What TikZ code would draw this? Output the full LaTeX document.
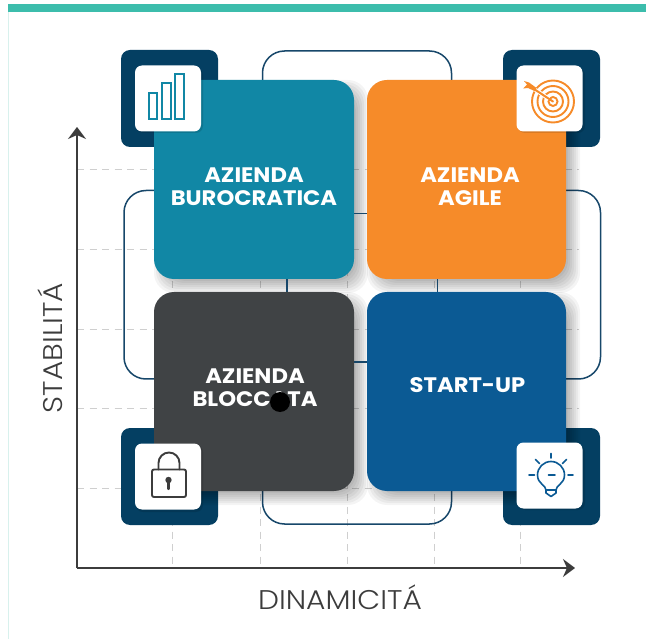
\documentclass[tikz,border=0pt]{standalone}
\usepackage{fontspec}
\setmainfont{Poppins}
\newfontfamily\lightf{Poppins}[UprightFont=* Light,FakeStretch=1.1]
\newfontfamily\cardf{Poppins}[UprightFont=* Bold,FakeStretch=1.08]
\usetikzlibrary{arrows.meta}
\definecolor{teal1}{HTML}{3CBDAC}
\definecolor{teal2}{HTML}{D8F1ED}
\definecolor{navy}{HTML}{043F62}
\definecolor{loopc}{HTML}{17476A}
\definecolor{cblue}{HTML}{1187A5}
\definecolor{corange}{HTML}{F68B29}
\definecolor{cdark}{HTML}{404345}
\definecolor{cstart}{HTML}{0B5A94}
\definecolor{axisc}{HTML}{3C3C3C}
\definecolor{gridc}{HTML}{CFCFCF}
\tikzset{
  grid line/.style={draw=gridc,line width=0.9pt,dash pattern=on 7pt off 5.5pt},
  loop line/.style={draw=loopc,line width=1.5pt,rounded corners=22pt},
  link line/.style={draw=loopc,line width=1.5pt},
  axis line/.style={draw=axisc,line width=2.2pt,-{Stealth[length=12pt,width=18pt,inset=4pt]}},
  card/.style={rectangle,rounded corners=20pt,minimum width=200pt,minimum height=199pt,inner sep=0pt,draw=none},
  cardlabel/.style={text=white,font=\cardf\fontsize{21}{23.5}\selectfont,align=center,inner sep=0pt},
  navybox/.style={rectangle,rounded corners=9pt,fill=navy,minimum width=97pt,minimum height=97pt,inner sep=0pt},
  whitebox/.style={rectangle,rounded corners=7pt,fill=white,minimum width=66pt,minimum height=66pt,inner sep=0pt},
  axislabel/.style={text=axisc,font=\lightf\fontsize{27}{29}\selectfont,inner sep=0pt},
  icon/.style={line width=1.9pt,line cap=round,line join=round},
}
\newcommand{\softshadow}[4]{%
  \foreach \g in {-10,-8,...,9}{
    \fill[black,opacity=0.045,rounded corners=20pt]
      ({#1+8-\g},{#2+8-\g}) rectangle ({#3+6+\g},{#4+6+\g});
  }%
}
\begin{document}
\begin{tikzpicture}[x=1pt,y=-1pt]
\useasboundingbox (0,0) rectangle (646,639);
\fill[white] (0,0) rectangle (646,639);
% frame
\fill[teal2] (7.5,4) rectangle (9,639);
\fill[teal1] (8,4) rectangle (646,12.5);
% grid
\foreach \yy in {169,249,329,408,488}{
  \draw[grid line] (77,\yy) -- (579,\yy);
}
\foreach \xx in {172,260,347,434,520}{
  \draw[grid line] (\xx,169) -- (\xx,568);
}
% axes
\coordinate (origin) at (77,568);
\coordinate (ytip) at (77,127);
\coordinate (xtip) at (575,568);
\draw[axis line] (origin) -- (ytip);
\draw[axis line] (origin) -- (xtip);
% loops
\coordinate (tl) at (262.5,90);
\coordinate (tr) at (451.5,90);
\coordinate (tla) at (262.5,51);
\coordinate (tra) at (451.5,51);
\coordinate (bl) at (262.5,480);
\coordinate (br) at (451.5,480);
\coordinate (bla) at (262.5,524);
\coordinate (bra) at (451.5,524);
\coordinate (lt) at (165,190.5);
\coordinate (lb) at (165,379);
\coordinate (lta) at (124,190.5);
\coordinate (lba) at (124,379);
\coordinate (rt) at (555,190.5);
\coordinate (rb) at (555,379);
\coordinate (rta) at (600.5,190.5);
\coordinate (rba) at (600.5,379);
\draw[loop line] (tl) -- (tla) -- (tra) -- (tr);
\draw[loop line] (bl) -- (bla) -- (bra) -- (br);
\draw[loop line] (lt) -- (lta) -- (lba) -- (lb);
\draw[loop line] (rt) -- (rta) -- (rba) -- (rb);
% navy squares
\node[navybox] (navytl) at (169.5,98.5) {};
\node[navybox] (navytr) at (551.5,98.5) {};
\node[navybox] (navybl) at (169.5,476.5) {};
\node[navybox] (navybr) at (551.5,476.5) {};
% shadows
\softshadow{154}{80}{354}{279}
\softshadow{367}{80}{566}{279}
\softshadow{154}{292}{354}{491}
\softshadow{367}{292}{566}{491}
% connectors between the cards
\coordinate (hta) at (350,213.5);
\coordinate (htb) at (370,213.5);
\coordinate (hba) at (350,362);
\coordinate (hbb) at (370,362);
\coordinate (vla) at (287,275);
\coordinate (vlb) at (287,296);
\coordinate (vra) at (437.5,275);
\coordinate (vrb) at (437.5,296);
\draw[link line] (hta) -- (htb);
\draw[link line] (hba) -- (hbb);
\draw[link line] (vla) -- (vlb);
\draw[link line] (vra) -- (vrb);
% cards
\node[card,fill=cblue] (burocratica) at (254,179.5) {};
\node[card,fill=corange,minimum width=199pt] (agile) at (466.5,179.5) {};
\node[card,fill=cdark] (bloccata) at (254,391.5) {};
\node[card,fill=cstart,minimum width=199pt] (startup) at (466.5,391.5) {};
\node[cardlabel] (lburo) at (254,186.5) {AZIENDA\\BUROCRATICA};
\node[cardlabel] (lagile) at (470,186.5) {AZIENDA\\AGILE};
\node[cardlabel] (lblocc) at (255,387.5) {AZIENDA\\BLOCCATA};
\node[cardlabel] (lstart) at (467.5,385) {START-UP};
% white squares
\fill[black,opacity=0.12,rounded corners=7pt] (136,68) rectangle (203,133);
\fill[black,opacity=0.12,rounded corners=7pt] (518,68) rectangle (585,133);
\fill[black,opacity=0.12,rounded corners=7pt] (136,445) rectangle (203,512);
\fill[black,opacity=0.12,rounded corners=7pt] (518,445) rectangle (585,510);
\node[whitebox] (whitetl) at (168,98.5) {};
\node[whitebox] (whitetr) at (549.5,98.5) {};
\node[whitebox] (whitebl) at (168,476.5) {};
\node[whitebox] (whitebr) at (549.5,475.5) {};
% bars icon
\draw[cblue,line width=2pt] (148.5,93.5) rectangle (157,119.5);
\draw[cblue,line width=2pt] (162,83.5) rectangle (171,119.5);
\draw[cblue,line width=2pt] (174.5,74) rectangle (184,119.5);
% target icon
\foreach \r in {21,15.5,10,4.5}{
  \draw[corange,line width=1.9pt,fill=none] (553,101.5) circle[radius=\r];
}
\draw[white,line width=4pt] (535,89.5) -- (549,99);
\draw[corange,line width=2pt,line cap=round] (534,89) -- (553,101.5);
\fill[corange] (534.5,91) -- (528,88) -- (523,88.5) -- (527,84.5) -- (524,81) -- (529,82.5) -- (536.5,88) -- cycle;
% lock icon
\draw[axisc,icon,rounded corners=2pt] (152,469.5) rectangle (186,497);
\draw[axisc,icon] (158.5,469.5) -- (158.5,463) arc[start angle=180,end angle=360,radius=10.5] -- (179.5,469.5);
\fill[axisc] (168.5,480) circle[radius=3.2];
\draw[axisc,line width=2.2pt,line cap=round] (168.5,480) -- (168.5,489);
% bulb icon
\begin{scope}[cstart,icon,line width=1.6pt]
\draw (551,453.5) -- (551,458);
\draw (535.5,459.5) -- (539.5,463.5);
\draw (566.5,459.5) -- (562.5,463.5);
\draw (529,475) -- (534.5,475);
\draw (568,475) -- (573,475);
\draw (548.5,475) -- (555,475);
\draw (546,490) .. controls (546,485) and (537.5,484) .. (537.5,475) .. controls (537.5,467.5) and (543.5,461.5) .. (551,461.5) .. controls (558.5,461.5) and (564.5,467.5) .. (564.5,475) .. controls (564.5,484) and (556,485) .. (556,490) -- cycle;
\draw (546,490) -- (546,493) -- (551,496.5) -- (556,493) -- (556,490);
\end{scope}
% axis labels
\node[axislabel,rotate=90] (lstab) at (50,348) {STABILITÁ};
\node[axislabel] (ldin) at (340,597) {DINAMICITÁ};
% black dot
\fill[black] (280,402) circle[radius=10];
\end{tikzpicture}
\end{document}
